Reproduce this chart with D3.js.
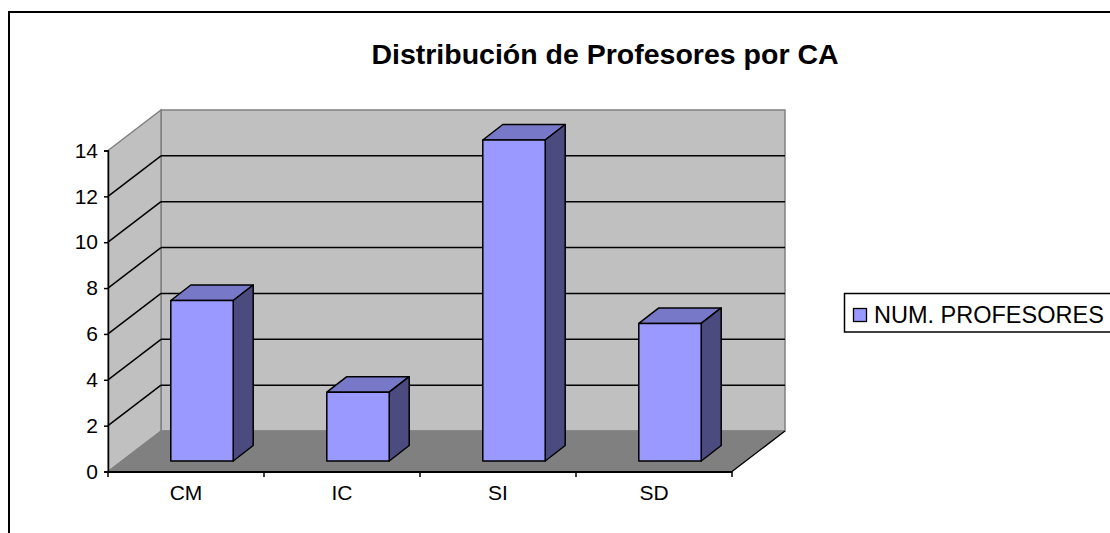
<!DOCTYPE html>
<html>
<head>
<meta charset="utf-8">
<script src="https://cdn.jsdelivr.net/npm/d3@7"></script>
<style>
  body { margin: 0; background: #fff; }
  svg { display: block; font-family: Arial, "Liberation Sans", sans-serif; }
</style>
</head>
<body>
<svg id="chart" width="1110" height="533"></svg>
<script>
// data
var categories = ['CM', 'IC', 'SI', 'SD'];
var values = [7, 3, 14, 6];
var yTicks = [0, 2, 4, 6, 8, 10, 12, 14];
var seriesName = 'NUM. PROFESORES';
var chartTitle = 'Distribución de Profesores por CA';

var svg = d3.select('#chart');

// front plane of the plot
var plotLeft = 108, plotRight = 732, plotBottom = 471.5, plotTop = 150.5;
// depth of the walls, and where the bars sit in depth
var wallDx = 53, wallDy = -40.5;
var barFrontDx = 16, barFrontDy = -10.5;
var barDx = 20, barDy = -15.5;

var x = d3.scaleBand().domain(categories).range([plotLeft, plotRight]).padding(0);
var y = d3.scaleLinear().domain([0, 14]).range([plotBottom, plotTop]);

function pts(a) {
    return a.map(function (p) { return p[0] + ',' + p[1]; }).join(' ');
}

// back wall
svg.append('polygon')
    .attr('points', pts([[plotLeft + wallDx, plotTop + wallDy], [plotRight + wallDx, plotTop + wallDy],
        [plotRight + wallDx, plotBottom + wallDy], [plotLeft + wallDx, plotBottom + wallDy]]))
    .attr('fill', '#c0c0c0').attr('stroke', '#808080').attr('stroke-width', 1.5);
// side wall
svg.append('polygon')
    .attr('points', pts([[plotLeft, plotTop], [plotLeft + wallDx, plotTop + wallDy],
        [plotLeft + wallDx, plotBottom + wallDy], [plotLeft, plotBottom]]))
    .attr('fill', '#c0c0c0').attr('stroke', '#808080').attr('stroke-width', 1.5);
// floor
svg.append('polygon')
    .attr('points', pts([[plotLeft, plotBottom], [plotLeft + wallDx, plotBottom + wallDy],
        [plotRight + wallDx, plotBottom + wallDy], [plotRight, plotBottom]]))
    .attr('fill', '#808080').attr('stroke', '#808080').attr('stroke-width', 1);
svg.append('line')
    .attr('x1', plotRight).attr('y1', plotBottom)
    .attr('x2', plotRight + wallDx).attr('y2', plotBottom + wallDy)
    .attr('stroke', '#000').attr('stroke-width', 1.3);

// gridlines
var inner = yTicks.filter(function (v) { return v > 0 && v < 14; });
var grid = svg.append('g').attr('stroke', '#000').attr('stroke-width', 1.5);
grid.selectAll('line.back').data(inner).enter().append('line')
    .attr('x1', plotLeft + wallDx).attr('x2', plotRight + wallDx)
    .attr('y1', function (d) { return y(d) + wallDy; })
    .attr('y2', function (d) { return y(d) + wallDy; });
grid.selectAll('line.side').data(inner).enter().append('line')
    .attr('x1', plotLeft).attr('x2', plotLeft + wallDx)
    .attr('y1', function (d) { return y(d); })
    .attr('y2', function (d) { return y(d) + wallDy; });

// bars
var bw = x.bandwidth() / 2.5;
var bars = svg.append('g').selectAll('g').data(categories).enter().append('g')
    .attr('stroke', '#000').attr('stroke-width', 1.5).attr('stroke-linejoin', 'round');
function bx(c) { return x(c) + (x.bandwidth() - bw) / 2 + barFrontDx; }
function by0() { return y(0) + barFrontDy; }
function by1(c, i) { return y(values[i]) + barFrontDy; }
bars.append('polygon') // top
    .attr('fill', '#7878c8')
    .attr('points', function (c, i) {
        var x0 = bx(c), yt = by1(c, i);
        return pts([[x0, yt], [x0 + barDx, yt + barDy], [x0 + bw + barDx, yt + barDy], [x0 + bw, yt]]);
    });
bars.append('polygon') // side
    .attr('fill', '#4b4b80')
    .attr('points', function (c, i) {
        var x1 = bx(c) + bw, yt = by1(c, i), yb = by0();
        return pts([[x1, yt], [x1 + barDx, yt + barDy], [x1 + barDx, yb + barDy], [x1, yb]]);
    });
bars.append('rect') // front
    .attr('fill', '#9999ff')
    .attr('x', function (c) { return bx(c); })
    .attr('y', function (c, i) { return by1(c, i); })
    .attr('width', bw)
    .attr('height', function (c, i) { return by0() - by1(c, i); });

// y axis
var yAxis = svg.append('g').attr('transform', 'translate(' + plotLeft + ',0)')
    .call(d3.axisLeft(y).tickValues(yTicks).tickSize(4).tickPadding(6));
yAxis.select('.domain').attr('stroke', '#000').attr('stroke-width', 1.5);
yAxis.selectAll('.tick line').attr('stroke', '#000').attr('stroke-width', 1.5);
yAxis.selectAll('text').attr('font-size', 21).attr('fill', '#000')
    .attr('font-family', 'Arial, "Liberation Sans", sans-serif');

// x axis
var xAxis = svg.append('g').attr('transform', 'translate(0,' + plotBottom + ')')
    .call(d3.axisBottom(x).tickSize(0).tickPadding(14));
xAxis.select('.domain').attr('stroke', '#000').attr('stroke-width', 2.2);
xAxis.selectAll('text').attr('font-size', 21).attr('fill', '#000')
    .attr('font-family', 'Arial, "Liberation Sans", sans-serif');
var bounds = categories.map(function (c) { return x(c); }).concat([plotRight]);
svg.append('g').selectAll('line').data(bounds).enter().append('line')
    .attr('x1', function (d) { return d; }).attr('x2', function (d) { return d; })
    .attr('y1', plotBottom).attr('y2', plotBottom + 5.5)
    .attr('stroke', '#000').attr('stroke-width', 1.5);

// legend
var lg = svg.append('g');
lg.append('rect').attr('x', 844.5).attr('y', 293.5).attr('width', 300).attr('height', 38.5)
    .attr('fill', '#fff').attr('stroke', '#000').attr('stroke-width', 1.5);
lg.append('rect').attr('x', 853.5).attr('y', 308.5).attr('width', 13).attr('height', 13)
    .attr('fill', '#9999ff').attr('stroke', '#000').attr('stroke-width', 1.3);
lg.append('text').attr('x', 874).attr('y', 322.5).attr('font-size', 23.5).attr('fill', '#000')
    .text(seriesName);

// title
svg.append('text').attr('x', 605).attr('y', 63.5).attr('text-anchor', 'middle')
    .attr('font-size', 28.5).attr('font-weight', 'bold').attr('fill', '#000')
    .text(chartTitle);

// outer border
svg.append('rect').attr('x', 9).attr('y', 12).attr('width', 1200).attr('height', 600)
    .attr('fill', 'none').attr('stroke', '#000').attr('stroke-width', 2);
</script>
</body>
</html>
